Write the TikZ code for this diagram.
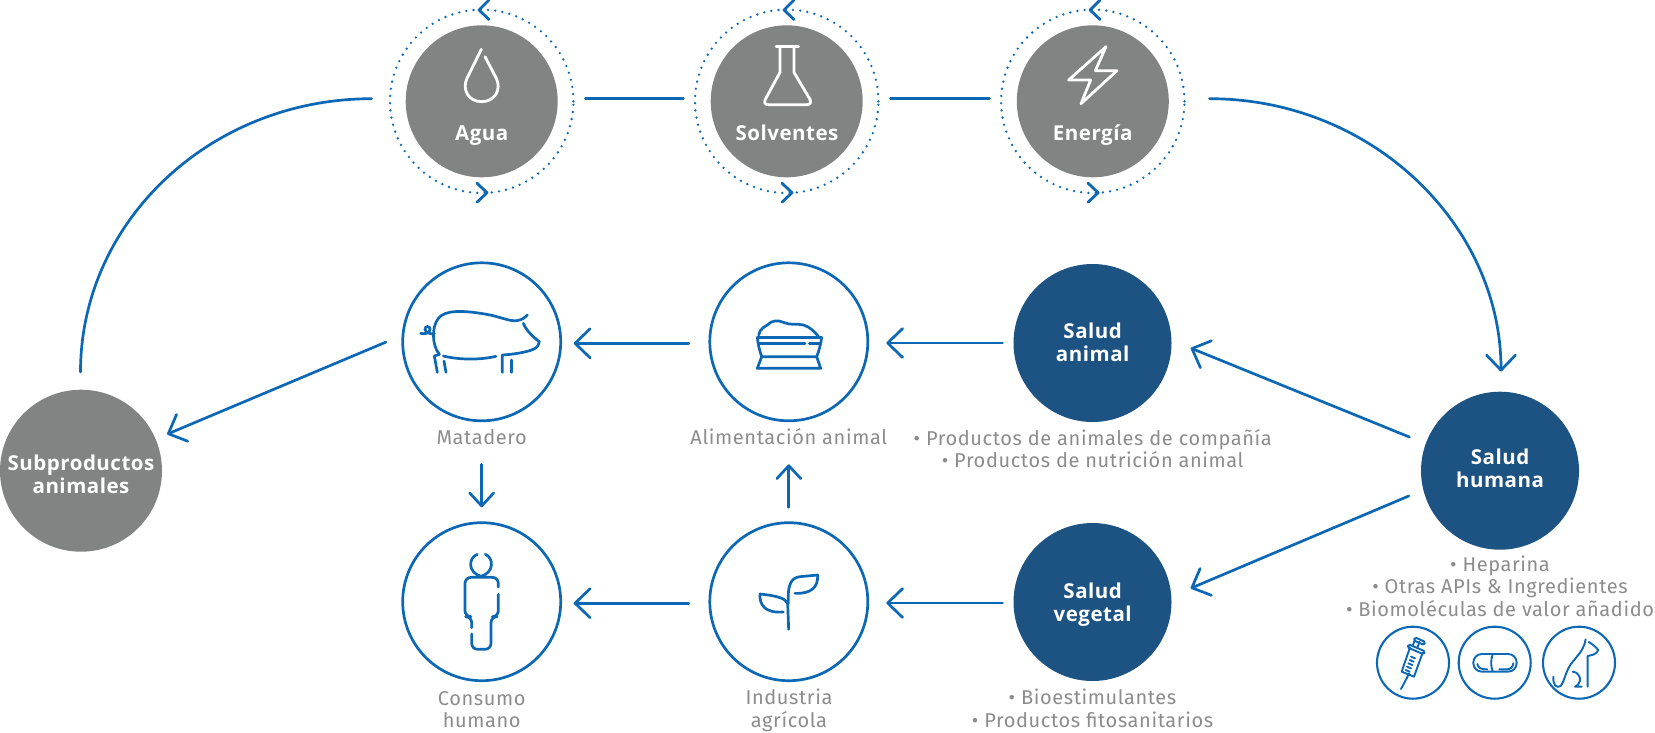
\documentclass[tikz,border=0pt]{standalone}
\usepackage{fontspec}
\usetikzlibrary{arrows.meta,calc}
\setmainfont{Open Sans}
\newfontfamily\boldlab{Open Sans}[UprightFont=* Bold,LetterSpace=2.5]
\newfontfamily\greylab{Fira Sans}[LetterSpace=3]
\definecolor{flow}{HTML}{0C68B4}
\definecolor{stone}{HTML}{828483}
\definecolor{navy}{HTML}{1D5382}
\definecolor{cap}{HTML}{8C8C8C}
\tikzset{
  x=1pt,y=-1pt,
  every node/.style={outer sep=0pt,inner sep=0pt},
  disc/.style={circle,minimum size=#1,fill=stone},
  discn/.style={circle,minimum size=158pt,fill=navy},
  ring/.style={circle,minimum size=158pt,draw=flow,line width=2.7pt},
  sring/.style={circle,minimum size=72pt,draw=flow,line width=2.1pt},
  dotring/.style={circle,minimum size=183.4pt,draw=flow,line width=2.6pt,line cap=round,dash pattern=on 0pt off 7.25pt},
  wlab/.style={text=white,font=\boldlab\fontsize{20.5}{23}\selectfont,align=center},
  glab/.style={text=cap,font=\greylab\fontsize{20}{22.4}\selectfont,align=center},
  conn/.style={draw=flow,line width=2.7pt,line cap=round},
  arr/.style={conn,-{Straight Barb[length=15pt,width=29pt,line width=2.7pt,round]}},
  arrs/.style={conn,-{Straight Barb[length=13pt,width=24pt,line width=2.7pt,round]}},
  zoomed/.style args={#1/#2}{shift={(#1,#2)},scale=1/3},
  iconw/.style={draw=white,line width=2.8pt,line cap=round,line join=round},
  iconb/.style={draw=flow,line width=2.7pt,line cap=round,line join=round},
  icons/.style={draw=flow,line width=1.9pt,line cap=round,line join=round},
  chev/.style={draw=flow,line width=2.8pt,line cap=round,line join=round},
  pics/marks/.style={code={
    \draw[chev] (7.3,-101.3) -- (-2.7,-91.3) -- (7.3,-81.8);
    \draw[chev] (-4.7,81.9) -- (5.3,91.4) -- (-4.7,100.9);
  }}
}
\begin{document}
\begin{tikzpicture}
\useasboundingbox (0,0) rectangle (1655,732);

% top row
\node[disc=152pt] (agua) at (481.7,101.3) {};
\node[disc=152pt] (solv) at (786.7,101.3) {};
\node[disc=152pt] (ener) at (1092.8,101.3) {};
\node[dotring] (ragua) at (481.7,101.3) {};
\node[dotring] (rsolv) at (786.7,101.3) {};
\node[dotring] (rener) at (1092.8,101.3) {};
\pic at (481.7,101.3) {marks};
\pic at (786.7,101.3) {marks};
\pic at (1092.8,101.3) {marks};
\node[wlab,anchor=base] (taqua) at (481.7,140.7) {Agua};
\node[wlab,anchor=base] (tsolv) at (787,140.7) {Solventes};
\node[wlab,anchor=base] (tener) at (1092.7,140.7) {Energía};

% middle rows
\node[ring] (mat) at (481.7,341.8) {};
\node[ring] (ali) at (788.8,341.8) {};
\node[discn] (san) at (1092.5,343) {};
\node[ring] (con) at (481.7,601.7) {};
\node[ring] (ind) at (788.8,601.7) {};
\node[discn] (sve) at (1092.5,602) {};
\node[discn] (shu) at (1500,470.7) {};
\node[disc=162pt] (sub) at (81,470.7) {};

\node[wlab] (tsan) at (1092.7,342) {Salud\\animal};
\node[wlab] (tsve) at (1092.7,604.2) {Salud\\vegetal};
\node[wlab] (tshu) at (1500,468.5) {Salud\\humana};
\node[wlab] (tsub) at (81,474.5) {Subproductos\\animales};

\node[glab] (lmat) at (481.7,437) {Matadero};
\node[glab] (lali) at (788.8,437) {Alimentación animal};
\node[glab] (lcon) at (481.7,709.5) {Consumo\\humano};
\node[glab] (lind) at (789,710.5) {Industria\\agrícola};
\node[glab] (lsan) at (1092.7,448.5) {• Productos de animales de compañía\\• Productos de nutrición animal};
\node[glab] (lsve) at (1092.5,708.2) {• Bioestimulantes\\• Productos fitosanitarios};
\node[glab] (lshu) at (1500,586) {• Heparina\\• Otras APIs \& Ingredientes\\• Biomoléculas de valor añadido};

\node[sring] (s1) at (1413,662.7) {};
\node[sring] (s2) at (1494.7,662.7) {};
\node[sring] (s3) at (1579,662.7) {};

% connectors
\coordinate (subOut) at (80.5,372);
\coordinate (aguaIn) at (371.5,98.7);
\coordinate (enerOut) at (1209.6,98.7);
\coordinate (shuIn) at (1501,371.5);
\draw[conn] (subOut) .. controls (80.5,221) and (210.8,98.7) .. (aguaIn);
\draw[arr] (enerOut) .. controls (1372,98.7) and (1501,225) .. (shuIn);
\draw[conn,shorten <=12pt,shorten >=11.7pt] ([yshift=2.6pt]ragua.east) -- ([yshift=2.6pt]rsolv.west);
\draw[conn,shorten <=12pt,shorten >=11.7pt] ([yshift=2.6pt]rsolv.east) -- ([yshift=2.6pt]rener.west);
\draw[arr,shorten <=21pt,shorten >=13pt] ([yshift=-1.5pt]ali.west) -- ([yshift=-1.5pt]mat.east);
\draw[arr,shorten <=11pt,shorten >=18.5pt] (san.west) -- ([yshift=-1.2pt]ali.east);
\draw[arr,shorten <=21pt,shorten >=13pt] ([yshift=-1.5pt]ind.west) -- ([yshift=-1.5pt]con.east);
\draw[arr,shorten <=11pt,shorten >=18.5pt] ([yshift=-1pt]sve.west) -- ([yshift=-1.3pt]ind.east);
\draw[arrs,shorten <=43.5pt,shorten >=15.4pt] (mat.south) -- (con.north);
\draw[arrs,shorten <=15.4pt,shorten >=43.5pt] (ind.north) -- (ali.south);
\draw[arr,shorten <=18.6pt,shorten >=12.5pt] (mat.175.7) -- (sub.23.2);
\draw[arr,shorten <=17.7pt,shorten >=20.8pt] (shu.160.9) -- (san.2.1);
\draw[arr,shorten <=15.8pt,shorten >=21pt] (shu.194.8) -- (sve.4.3);

% icons: drop
\begin{scope}[zoomed=370/0]
\draw[iconw] (334,148) -- (291,235) .. controls (275,268) and (295,305) .. (335,305) .. controls (375,305) and (395,268) .. (379,235) -- (345,170);
\end{scope}
% flask
\begin{scope}[zoomed=730/30]
\draw[iconw] (138,50) -- (206,50);
\draw[iconw] (150,50) -- (150,127) -- (106,208) .. controls (102,218) and (104,224) .. (115,224) -- (230,224) .. controls (242,224) and (244,216) .. (240,208) -- (192,127) -- (192,50);
\end{scope}
% bolt
\begin{scope}[zoomed=980/0]
\draw[iconw] (378,140) -- (266,240) -- (332,240) -- (303,311) -- (411,212) -- (346,212) -- cycle;
\end{scope}
% pig
\begin{scope}[zoomed=390/255]
\draw[iconb] (92,235) .. controls (105,238) and (120,235) .. (120,222) .. controls (120,212) and (105,212) .. (105,222) .. controls (105,232) and (120,238) .. (133,236);
\draw[iconb] (148,298) .. controls (125,270) and (125,215) .. (145,190) .. controls (165,165) and (215,165) .. (290,178) .. controls (330,185) and (360,200) .. (380,197) .. controls (395,195) and (405,188) .. (412,180);
\draw[iconb] (148,298) -- (133,303) -- (142,352);
\draw[iconb] (162,318) -- (168,352);
\draw[iconb] (160,303) .. controls (210,315) and (270,315) .. (318,304);
\draw[iconb] (337,352) -- (337,300) .. controls (370,298) and (410,292) .. (432,282) .. controls (442,277) and (448,268) .. (448,260) .. controls (435,250) and (410,230) .. (400,205);
\draw[iconb] (364,315) -- (364,352);
% feed
\draw[iconb] (1102,247) -- (1295,247);
\draw[iconb] (1102,247) .. controls (1104,270) and (1110,290) .. (1115,305) -- (1280,305) .. controls (1286,290) and (1292,270) .. (1295,247);
\draw[iconb] (1105,265) -- (1245,265);
\draw[iconb] (1258,265) -- (1288,265);
\draw[iconb] (1115,305) -- (1102,340) -- (1292,340) -- (1280,305);
\draw[iconb] (1106,240) .. controls (1110,220) and (1125,215) .. (1132,210) .. controls (1145,195) and (1165,195) .. (1180,202) .. controls (1200,212) and (1225,205) .. (1240,210) .. controls (1260,215) and (1275,232) .. (1285,244);
\end{scope}
% person
\begin{scope}[zoomed=390/515]
\draw[iconb] (262,118) .. controls (235,128) and (232,172) .. (273,184) .. controls (314,172) and (311,128) .. (286,118);
\draw[iconb,rounded corners=6pt] (325,216) -- (325,187) -- (225,187) -- (225,305) -- (245,305) -- (245,338);
\draw[iconb,rounded corners=6pt] (325,238) -- (325,305) -- (303,305) -- (303,403) -- (245,403) -- (245,357);
% plant
\draw[iconb] (1196,343) -- (1193,265) .. controls (1185,250) and (1165,243) .. (1110,237) .. controls (1108,270) and (1125,295) .. (1180,291);
\draw[iconb] (1195,265) .. controls (1192,205) and (1205,188) .. (1230,185) -- (1283,180) .. controls (1285,215) and (1265,237) .. (1215,235);
\end{scope}
% syringe
\begin{scope}[zoomed=1370/620]
\draw[icons] (93,207) -- (110,175);
\draw[icons] (110,175) -- (117,160);
\draw[icons] (120,82) -- (95,155) -- (132,170) -- (158,98);
\draw[icons,rounded corners=1.5pt] (116,73) -- (165,94) -- (161,103) -- (112,82) -- cycle;
\draw[icons] (142,84) -- (148,65);
\draw[icons] (128,78) -- (134,60);
\draw[icons,rounded corners=1.5pt] (135,52) -- (166,66) -- (162,75) -- (131,61) -- cycle;
\draw[icons] (107,150) -- (119,155) (111,140) -- (123,145) (115,130) -- (127,135) (119,120) -- (131,125) (123,110) -- (135,115);
\end{scope}
% pill
\begin{scope}[zoomed=1340/540]
\draw[icons,rounded corners=8.5pt] (400,342) rectangle (530,395);
\draw[icons] (458,343) .. controls (452,360) and (452,378) .. (458,394);
\draw[icons] (412,372) .. controls (414,385) and (425,388) .. (442,388);
\draw[icons] (478,388) -- (500,388) .. controls (512,388) and (518,382) .. (520,370);
\end{scope}
% dog
\begin{scope}[zoomed=1490/620]
\draw[icons] (287,58) .. controls (280,100) and (250,115) .. (235,145) .. controls (225,165) and (222,185) .. (212,198) .. controls (200,206) and (188,195) .. (190,170);
\draw[icons] (293,200) -- (293,108) .. controls (305,105) and (318,105) .. (325,90) .. controls (318,82) and (305,70) .. (296,66);
\draw[icons] (248,155) .. controls (262,155) and (272,170) .. (270,182) .. controls (268,192) and (262,196) .. (255,200) -- (275,200);
\end{scope}
\end{tikzpicture}
\end{document}
